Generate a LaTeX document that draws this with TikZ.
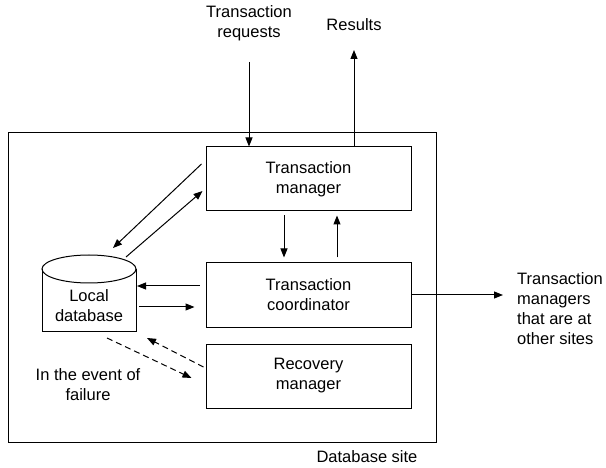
\documentclass[tikz,border=0pt]{standalone}
\usepackage{fontspec}
\setmainfont{Liberation Sans}
\usetikzlibrary{arrows.meta,calc}
\tikzset{
  box/.style={draw, line width=1pt, minimum width=205pt, minimum height=64pt, align=center, inner sep=0pt},
  lbl/.style={align=center, inner sep=0pt},
  arr/.style={line width=1pt, -{Triangle[length=9pt,width=7pt]}},
  darr/.style={arr, dash pattern=on 6pt off 4pt},
}
\begin{document}
\begin{tikzpicture}[x=1pt,y=-1pt,font=\fontsize{16.5}{20}\selectfont]
\useasboundingbox (0,0) rectangle (606,468);
% outer site box
\node[draw, line width=1pt, minimum width=428pt, minimum height=309pt, inner sep=0pt] (site) at (222,287.5) {};
\node[lbl] (sitelbl) at (367,457) {Database site};
% boxes
\node[box] (tm) at (308.5,179) {Transaction\\manager};
\node[box] (tc) at (308.5,295) {Transaction\\coordinator};
\node[box] (rm) at (308.5,376) {Recovery\\manager};
% local database cylinder
\node[lbl, minimum width=94pt, minimum height=76pt] (db) at (89,293) {};
\draw[line width=1pt, fill=white] (42,269) -- (42,331) -- (136,331) -- (136,269);
\draw[line width=1pt] (89,269) ellipse [x radius=47, y radius=14];
\node[lbl] (dbl) at (89,306) {Local\\database};
% outside labels
\node[lbl] (req) at (249,23.5) {Transaction\\requests};
\node[lbl] (res) at (354,25) {Results};
\node[lbl, align=left, anchor=west] (oth) at (517,309) {Transaction\\managers\\that are at\\other sites};
\node[lbl] (fail) at (88,385) {In the event of\\failure};
\coordinate (reqstart) at (249,62);
\coordinate (resend) at (354,50);
% connectors
\draw[arr] (reqstart) -- (reqstart |- tm.north);
\draw[arr] (resend |- tm.north) -- (resend);
\draw[arr] ($(tm.south)+(-24.5,4)$) -- ($(tc.north)+(-24.5,-5)$);
\draw[arr] ($(tc.north)+(28.5,-5)$) -- ($(tm.south)+(28.5,4)$);
\draw[arr] ($(tm.west)+(-4,-15)$) -- (113,248);
\draw[arr] (126,257) -- ($(tm.west)+(-3,12)$);
\draw[arr] ($(tc.west)+(-6,-9)$) -- (137,286);
\draw[arr] (139,307) -- ($(tc.west)+(-11,12)$);
\draw[darr] ($(rm.west)+(-2,-9)$) -- (147,338);
\draw[darr] (107,338) -- ($(rm.west)+(-14,2)$);
\draw[arr] (tc.east) -- ($(oth.west |- tc.east)+(-14,0)$);
\end{tikzpicture}
\end{document}
